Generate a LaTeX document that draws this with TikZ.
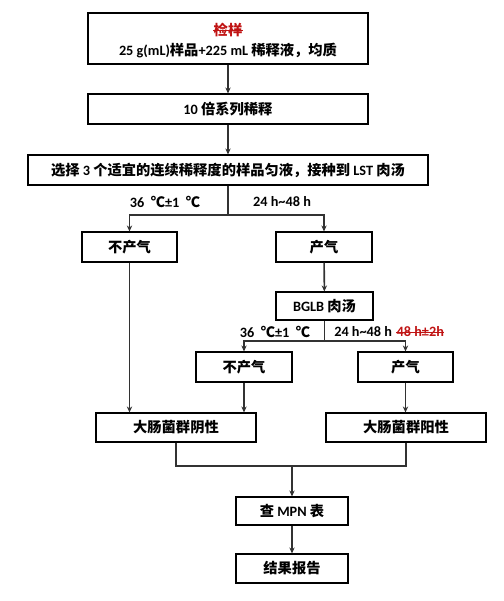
\documentclass[tikz,border=0pt]{standalone}
\usepackage{fontspec}
\setmainfont{Carlito}
\newfontfamily\cjk{Noto Sans CJK SC}
\usepackage{xcolor}
\usetikzlibrary{positioning,arrows.meta}
\definecolor{strikered}{RGB}{192,20,20}
\definecolor{linegray}{RGB}{50,50,50}
\newcommand{\zh}[1]{{\cjk #1}}

\begin{document}
\begin{tikzpicture}[x=0.75pt,y=-0.75pt,
  font=\fontsize{10.7pt}{15pt}\selectfont\bfseries, >={Stealth[length=4.5pt,width=4pt]},
  box/.style={draw,line width=0.8pt,inner sep=0pt,align=center},
  flow/.style={draw=linegray,line width=1.2pt},
  cond/.style={inner sep=0pt,anchor=center},
  struck/.style={inner sep=0pt,text=strikered}]
  \useasboundingbox (0,0) rectangle (504,601);
  % --- sample preparation ---
  \node[box,minimum width=280*0.75pt,minimum height=51*0.75pt] (smp) at (228,38.5) {};
  \node[struck] (smpa) at (228,30) {\zh{检样}};
  \draw[strikered,line width=0.6pt] (smpa.west) -- (smpa.east);
  \node[cond] (smpb) at (228,51) {25 g(mL)\zh{样品}+225 mL \zh{稀释液，均质}};
  \node[box,minimum width=280*0.75pt,minimum height=30*0.75pt] (dil) at (228,109)
    {10 \zh{倍系列稀释}};
  \node[box,minimum width=400*0.75pt,minimum height=30*0.75pt] (lst) at (228,170)
    {\zh{选择} 3 \zh{个适宜的连续稀释度的样品匀液，接种到} LST \zh{肉汤}};
  \draw[flow,->] (smp) -- (dil);
  \draw[flow,->] (dil) -- (lst);
  % --- LST result ---
  \node[box,minimum width=95*0.75pt,minimum height=30*0.75pt] (nog1) at (129.5,247) {\zh{不产气}};
  \node[box,minimum width=96*0.75pt,minimum height=30*0.75pt] (gas1) at (324,247) {\zh{产气}};
  \coordinate (sp1) at (228,215);
  \node[cond] (t1) at (165,202) {36 \zh{\ ℃}±1 \zh{\ ℃}};
  \node[cond] (h1) at (282,202) {24 h\textasciitilde48 h};
  \draw[flow] (lst) -- (sp1);
  \draw[flow,->] (sp1) -| (nog1);
  \draw[flow,->] (sp1) -| (gas1);
  % --- BGLB confirmation ---
  \node[box,minimum width=97*0.75pt,minimum height=28*0.75pt] (bglb) at (324.5,306) {BGLB \zh{肉汤}};
  \draw[flow,->] (gas1) -- (bglb);
  \node[box,minimum width=96*0.75pt,minimum height=30*0.75pt] (nog2) at (244,367) {\zh{不产气}};
  \node[box,minimum width=95*0.75pt,minimum height=30*0.75pt] (gas2) at (405.5,367) {\zh{产气}};
  \coordinate (sp2) at (324.5,341);
  \node[cond] (t2) at (275,332) {36 \zh{\ ℃}±1 \zh{\ ℃}};
  \node[cond,anchor=west] (h2) at (334,332) {24 h\textasciitilde48 h};
  \node[struck,right=3pt of h2] (h2x) {48 h±2h};
  \draw[strikered,line width=0.6pt] (h2x.west) -- (h2x.east);
  \draw[flow] (bglb) -- (sp2);
  \draw[flow,->] (sp2) -| (nog2);
  \draw[flow,->] (sp2) -| (gas2);
  % --- coliform result ---
  \node[box,minimum width=160*0.75pt,minimum height=29*0.75pt] (neg) at (176,427.5) {\zh{大肠菌群阴性}};
  \node[box,minimum width=160*0.75pt,minimum height=29*0.75pt] (pos) at (406,427.5) {\zh{大肠菌群阳性}};
  \draw[flow,->] (nog1) -- (nog1 |- neg.north);
  \draw[flow,->] (nog2) -- (nog2 |- neg.north);
  \draw[flow,->] (gas2) -- (gas2 |- pos.north);
  % --- MPN and report ---
  \coordinate (jn) at (292,466);
  \node[box,minimum width=112*0.75pt,minimum height=28*0.75pt] (mpn) at (292,511) {\zh{查} MPN \zh{表}};
  \node[box,minimum width=112*0.75pt,minimum height=29*0.75pt] (rep) at (292,568.5) {\zh{结果报告}};
  \draw[flow] (neg.south) |- (jn) -| (pos.south);
  \draw[flow,->] (jn) -- (mpn);
  \draw[flow,->] (mpn) -- (rep);
\end{tikzpicture}
\end{document}
